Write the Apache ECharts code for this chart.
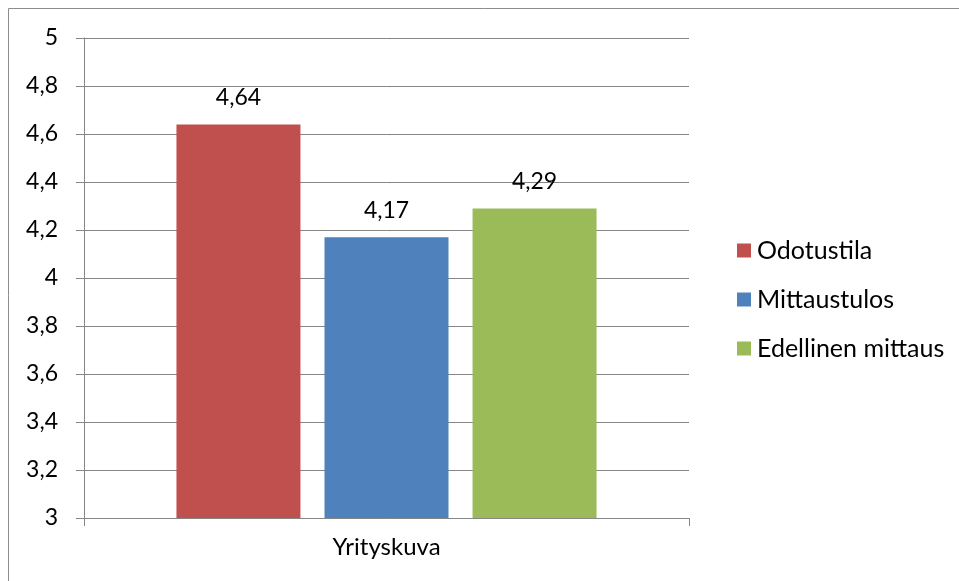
<!DOCTYPE html>
<html><head><meta charset="utf-8">
<script src="https://cdn.jsdelivr.net/npm/echarts@6/dist/echarts.min.js"></script>
<style>html,body{margin:0;padding:0;background:#fff}#c{width:959px;height:581px}</style>
</head><body><div id="c"></div>
<script>
const categories = ['Yrityskuva'];
const seriesNames = ['Odotustila', 'Mittaustulos', 'Edellinen mittaus'];
const odotustila = [4.64];
const mittaustulos = [4.17];
const edellinen = [4.29];
const colors = ['#C0504D', '#4F81BD', '#9BBB59'];
const FONT = 'Lato, "Open Sans", sans-serif';
const fmt = v => String(v).replace('.', ',');
const chart = echarts.init(document.getElementById('c'), null, {renderer: 'canvas'});
const mk = (name, data, color) => ({
  name, type: 'bar', data, barWidth: 124, barGap: '19.4%',
  itemStyle: {color},
  label: {show: true, position: 'top', distance: 15, color: '#000', fontSize: 23, fontFamily: FONT,
    formatter: p => fmt(p.value)}
});
chart.setOption({
  animation: false,
  graphic: [{type: 'rect', shape: {x: 8.5, y: 8.5, width: 960, height: 590},
    style: {fill: 'none', stroke: '#8c8c8c', lineWidth: 1}, z: -1}],
  grid: {left: 84, right: 270, top: 38, bottom: 63, containLabel: false},
  legend: {
    orient: 'vertical', left: 732, top: 233, itemWidth: 14, itemHeight: 14, itemGap: 24,
    icon: 'rect', data: seriesNames,
    textStyle: {fontSize: 25, fontFamily: FONT, color: '#000', padding: [0, 0, 0, 1]}
  },
  xAxis: {
    type: 'category', data: categories,
    axisLine: {lineStyle: {color: '#868686', width: 1}},
    axisTick: {show: true, length: 8, alignWithLabel: false, lineStyle: {color: '#868686'}},
    axisLabel: {fontSize: 24, fontFamily: FONT, color: '#000', margin: 17}
  },
  yAxis: {
    type: 'value', min: 3, max: 5, interval: 0.2,
    axisLine: {show: true, lineStyle: {color: '#868686', width: 1}},
    axisTick: {show: true, length: 8, inside: false, lineStyle: {color: '#868686'}},
    splitLine: {lineStyle: {color: '#868686', width: 1}},
    axisLabel: {fontSize: 23, fontFamily: FONT, color: '#000', margin: 26,
      formatter: v => fmt(Math.round(v * 10) / 10)}
  },
  series: [mk(seriesNames[0], odotustila, colors[0]), mk(seriesNames[1], mittaustulos, colors[1]), mk(seriesNames[2], edellinen, colors[2])]
});
</script></body></html>
